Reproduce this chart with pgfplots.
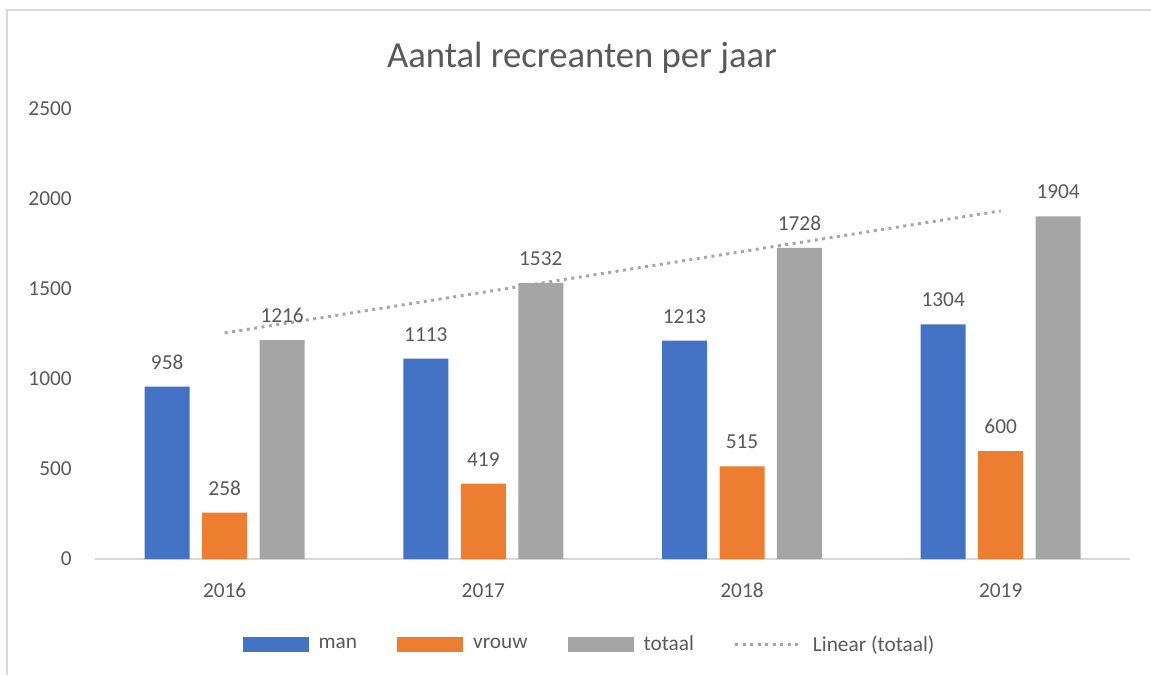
\documentclass[border=0pt]{standalone}
\usepackage{pgfplots}
\pgfplotsset{compat=1.18}
\usepackage{fontspec}
\setmainfont{Carlito}
\definecolor{cblue}{HTML}{4472C4}
\definecolor{corange}{HTML}{ED7D31}
\definecolor{cgray}{HTML}{A5A5A5}
\definecolor{cgrid}{HTML}{D9D9D9}
\definecolor{ctext}{HTML}{595959}
\begin{document}
\begin{tikzpicture}
\path[use as bounding box] (0,0) rectangle (863.25pt,506.25pt);
\draw[cgrid, line width=1.2pt] (5.25pt,0) -- (5.25pt,498.75pt) -- (863.25pt,498.75pt);
\node[text=ctext, font=\fontsize{27.5}{32}\selectfont] at (436.5pt,463pt) {Aantal recreanten per jaar};
\begin{axis}[
  at={(71.5pt,87pt)}, anchor=south west,
  scale only axis, width=776pt, height=337.5pt,
  xmin=0.5, xmax=4.5, ymin=0, ymax=2500,
  xtick={1,2,3,4}, xticklabels={2016,2017,2018,2019},
  ytick={0,500,1000,1500,2000,2500},
  ymajorgrids, grid style={cgrid, line width=1pt},
  axis line style={draw=none},
  x axis line style={draw=cgrid, line width=1pt},
  axis x line*=bottom,
  axis y line=none,
  ytick style={draw=none}, xtick style={draw=none},
  tick label style={text=ctext, font=\fontsize{16}{19}\selectfont},
  /pgf/number format/assume math mode=true,
  /pgf/number format/1000 sep={},
  xticklabel style={yshift=-10.5pt},
  ybar, bar width=33.75pt,
  nodes near coords,
  every node near coord/.append style={text=ctext, font=\fontsize{16}{19}\selectfont, yshift=9.5pt},
  legend columns=4,
  legend style={at={(0.478,-0.19)}, anchor=center, draw=none, fill=none,
    font=\fontsize{16}{19}\selectfont, text=ctext,
    /tikz/every even column/.append style={column sep=28pt}},
  legend cell align=left,
  clip=false,
]
\pgfplotsset{
  bar legend/.style={legend image code/.code={\fill[##1, draw=none] (0pt,-5.5pt) rectangle (49.5pt,5.5pt); \path (55pt,0pt);}},
}
\addplot[ybar, bar shift=-43.1pt, fill=cblue, draw=none, bar legend] coordinates {(1,958) (2,1113) (3,1213) (4,1304)};
\addlegendentry{man}
\addplot[ybar, bar shift=0pt, fill=corange, draw=none, bar legend] coordinates {(1,258) (2,419) (3,515) (4,600)};
\addlegendentry{vrouw}
\addplot[ybar, bar shift=43.1pt, fill=cgray, draw=none, bar legend] coordinates {(1,1216) (2,1532) (3,1728) (4,1904)};
\addlegendentry{totaal}
\addplot[sharp plot, no marks, draw=cgray, line width=2.2pt, dash pattern=on 2.2pt off 3.4pt, line cap=butt, nodes near coords={},
  legend image code/.code={\draw[cgray, line width=2.2pt, dash pattern=on 2.2pt off 3.4pt] (0pt,0pt) -- (49.5pt,0pt); \path (55pt,0pt);}]
  coordinates {(1,1256) (4,1934)};
\addlegendentry{Linear (totaal)}
\end{axis}
\foreach \v/\y in {0/87,500/154.5,1000/222,1500/289.5,2000/357,2500/424.5}{
  \node[anchor=east, text=ctext, font=\fontsize{16}{19}\selectfont, inner sep=0pt] at (54pt,\y pt) {\v};
}
\end{tikzpicture}
\end{document}
